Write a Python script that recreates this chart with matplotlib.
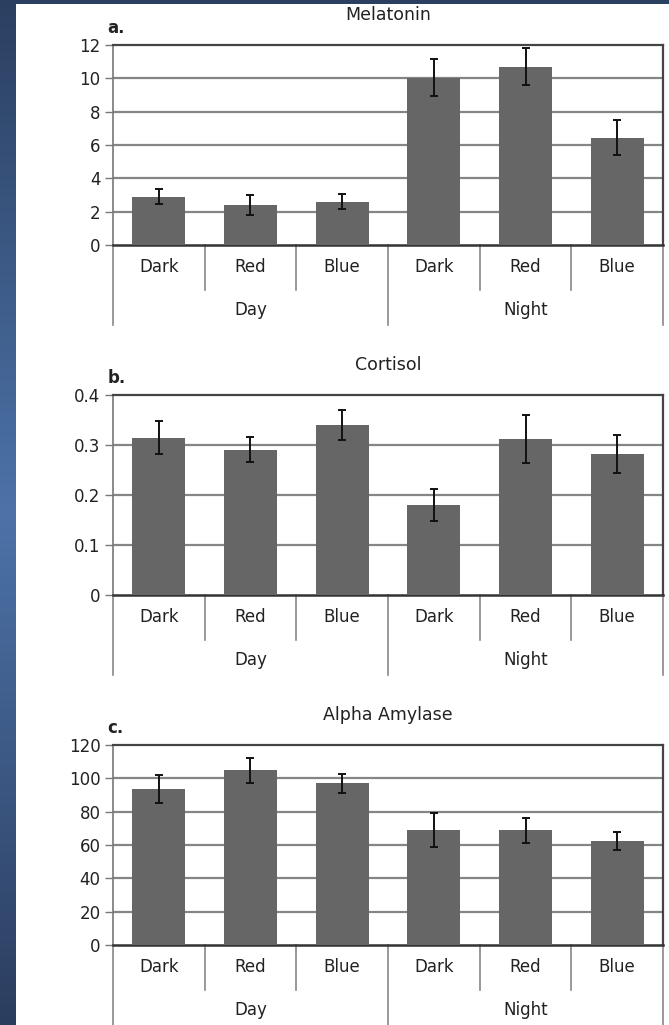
import numpy as np
import matplotlib
matplotlib.use("Agg")
import matplotlib.pyplot as plt
from matplotlib.patches import Rectangle
from matplotlib.transforms import blended_transform_factory

conditions = ["Dark", "Red", "Blue", "Dark", "Red", "Blue"]
groups = ["Day", "Night"]

melatonin = [2.9, 2.4, 2.6, 10.05, 10.7, 6.45]
melatonin_err = [0.45, 0.6, 0.45, 1.1, 1.1, 1.05]
cortisol = [0.315, 0.291, 0.340, 0.180, 0.313, 0.283]
cortisol_err = [0.033, 0.025, 0.030, 0.032, 0.048, 0.038]
amylase = [93.5, 105, 97, 69, 69, 62.5]
amylase_err = [8.5, 7.5, 5.5, 10, 7.5, 5.5]

panels = [
    ("a.", "Melatonin", melatonin, melatonin_err, [0, 2, 4, 6, 8, 10, 12], ["0", "2", "4", "6", "8", "10", "12"], 45),
    ("b.", "Cortisol", cortisol, cortisol_err, [0, 0.1, 0.2, 0.3, 0.4], ["0", "0.1", "0.2", "0.3", "0.4"], 395),
    ("c.", "Alpha Amylase", amylase, amylase_err, [0, 20, 40, 60, 80, 100, 120], ["0", "20", "40", "60", "80", "100", "120"], 745),
]

W, H = 669, 1025
fig = plt.figure(figsize=(W / 100, H / 100), dpi=100)

# blue gradient backdrop with white page on top
bg = fig.add_axes([0, 0, 1, 1])
bg.set_axis_off()
t = np.linspace(0, 1, 256)
top = np.array([0.17, 0.25, 0.38])
mid = np.array([0.30, 0.45, 0.66])
bot = np.array([0.17, 0.24, 0.37])
prof = np.where(t[:, None] < 0.5, top + (mid - top) * (t[:, None] / 0.5), mid + (bot - mid) * ((t[:, None] - 0.5) / 0.5))
bg.imshow(np.repeat(prof[:, None, :], 4, axis=1), aspect="auto", extent=[0, 1, 0, 1], origin="upper")
bg.add_patch(Rectangle((16 / W, 0), 1 - 16 / W, 1 - 4 / H, facecolor="white", edgecolor="none"))
bg.set_xlim(0, 1)
bg.set_ylim(0, 1)

plt.rcParams["font.family"] = ["DejaVu Sans"]
text_color = "#222222"
x = np.arange(len(conditions))
left_px, right_px, ax_h = 113, 663, 200

for letter, title, vals, errs, yticks, ylabels, top_px in panels:
    ax = fig.add_axes([left_px / W, 1 - (top_px + ax_h) / H, (right_px - left_px) / W, ax_h / H])
    ax.set_xlim(-0.5, 5.5)
    ax.set_ylim(yticks[0], yticks[-1])
    ax.bar(x, vals, width=0.58, color="#666666", zorder=3)
    ax.errorbar(x, vals, yerr=errs, fmt="none", ecolor="#111111", elinewidth=1.4, capsize=3, capthick=1.4, zorder=4)
    for yt in yticks[1:-1]:
        ax.axhline(yt, color="#858585", lw=1.6, zorder=1)
    ax.set_yticks(yticks)
    ax.set_yticklabels(ylabels, fontsize=12, color=text_color)
    ax.tick_params(axis="y", length=6, width=1, color="#777777", pad=3)
    ax.set_xticks([])
    for side in ["top", "right"]:
        ax.spines[side].set_color("#444444")
        ax.spines[side].set_linewidth(1.6)
    ax.spines["left"].set_color("#777777")
    ax.spines["left"].set_linewidth(1.2)
    ax.spines["bottom"].set_color("#333333")
    ax.spines["bottom"].set_linewidth(1.8)

    trans = blended_transform_factory(ax.transData, ax.transAxes)
    for i, lab in enumerate(conditions):
        ax.text(x[i], -0.11, lab, transform=trans, ha="center", va="center", fontsize=12, color=text_color)
    for g, name in enumerate(groups):
        ax.text(1 + 3 * g, -0.325, name, transform=trans, ha="center", va="center", fontsize=12, color=text_color)
    for b in [0.5, 1.5, 3.5, 4.5]:
        ax.plot([b, b], [0, -0.225], transform=trans, color="#888888", lw=1.2, clip_on=False)
    for b in [-0.5, 2.5, 5.5]:
        ax.plot([b, b], [0, -0.4], transform=trans, color="#888888", lw=1.2, clip_on=False)

    ax.text(0.5, 1.15, title, transform=ax.transAxes, ha="center", va="center", fontsize=12.5, color=text_color)
    ax.text(-0.01, 1.085, letter, transform=ax.transAxes, ha="left", va="center", fontsize=12, fontweight="bold", color=text_color)

fig.savefig("out.png", dpi=100)
